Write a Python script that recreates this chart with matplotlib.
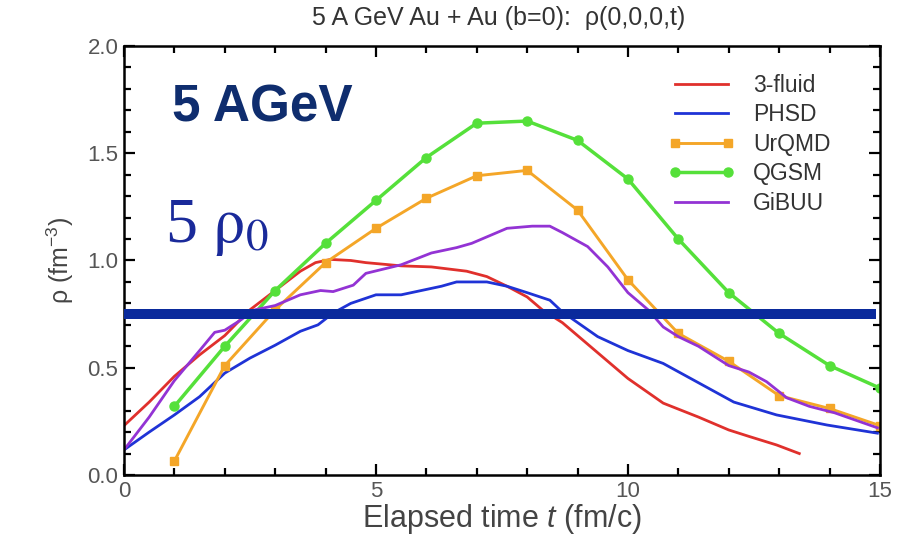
import matplotlib
matplotlib.use("Agg")
import matplotlib.pyplot as plt
from matplotlib.ticker import MultipleLocator

plt.rcParams['font.family'] = ['Liberation Sans', 'DejaVu Sans']
plt.rcParams['mathtext.fontset'] = 'custom'
plt.rcParams['mathtext.rm'] = 'Liberation Sans'
plt.rcParams['mathtext.it'] = 'Liberation Sans:italic'

# 3-fluid (red)
t_fluid = [0, 0.5, 1.0, 1.5, 2.0, 2.5, 3.0, 3.5, 3.8, 4.1, 4.5, 4.8, 5.5, 6.1, 6.8,
           7.2, 7.6, 8.0, 8.3, 8.7, 9.4, 10.0, 10.7, 11.4, 12.0, 12.4, 12.95, 13.4]
rho_fluid = [0.23, 0.34, 0.46, 0.56, 0.65, 0.77, 0.86, 0.95, 0.99, 1.005, 1.0, 0.99,
             0.975, 0.97, 0.95, 0.925, 0.88, 0.83, 0.77, 0.71, 0.57, 0.45, 0.335,
             0.27, 0.21, 0.18, 0.14, 0.10]

# PHSD (blue)
t_phsd = [0, 0.5, 1.0, 1.5, 2.0, 2.5, 3.0, 3.5, 3.85, 4.15, 4.5, 5.0, 5.5, 5.8,
          6.3, 6.6, 7.2, 7.6, 8.0, 8.45, 8.7, 9.4, 10.0, 10.7, 11.4, 12.1, 12.95,
          13.95, 14.95]
rho_phsd = [0.117, 0.20, 0.28, 0.365, 0.475, 0.545, 0.605, 0.67, 0.70, 0.755, 0.80,
            0.84, 0.84, 0.855, 0.88, 0.90, 0.90, 0.88, 0.85, 0.815, 0.76, 0.645,
            0.58, 0.52, 0.43, 0.34, 0.28, 0.233, 0.195]

# UrQMD (orange, squares)
t_urqmd = [1, 2, 3, 4, 5, 6, 7, 8, 9, 10, 11, 12, 13, 14, 15]
rho_urqmd = [0.065, 0.51, 0.77, 0.99, 1.15, 1.29, 1.395, 1.42, 1.235, 0.91, 0.66,
             0.53, 0.37, 0.31, 0.23]

# QGSM (green, circles)
t_qgsm = [1, 2, 3, 4, 5, 6, 7, 8, 9, 10, 11, 12, 13, 14, 15]
rho_qgsm = [0.32, 0.60, 0.86, 1.08, 1.28, 1.48, 1.64, 1.65, 1.56, 1.38, 1.10,
            0.85, 0.66, 0.51, 0.405]

# GiBUU (purple)
t_gibuu = [0, 0.5, 1.0, 1.5, 1.8, 2.0, 2.3, 2.6, 3.0, 3.5, 3.9, 4.15, 4.55, 4.8,
           5.5, 6.1, 6.6, 6.9, 7.3, 7.6, 8.1, 8.45, 8.7, 9.2, 9.6, 10.0, 10.4, 10.7,
           11.0, 11.4, 12.0, 12.4, 12.75, 13.15, 13.6, 14.1, 14.95]
rho_gibuu = [0.117, 0.27, 0.44, 0.58, 0.665, 0.675, 0.72, 0.77, 0.79, 0.84, 0.86,
             0.855, 0.885, 0.94, 0.98, 1.035, 1.06, 1.08, 1.12, 1.15, 1.16, 1.16,
             1.13, 1.065, 0.97, 0.85, 0.77, 0.69, 0.645, 0.60, 0.51, 0.48, 0.435,
             0.36, 0.32, 0.29, 0.22]

rho_5rho0 = 0.75

fig = plt.figure(figsize=(9.09, 5.34), dpi=100)
ax = fig.add_axes([0.1364, 0.1105, 0.8316, 0.8034])

ax.plot(t_fluid, rho_fluid, color='#e0302c', lw=2.0, label='3-fluid')
ax.plot(t_phsd, rho_phsd, color='#1f33d6', lw=2.0, label='PHSD')
ax.plot(t_urqmd, rho_urqmd, color='#f4a628', lw=2.1, marker='s', ms=5.5,
        label='UrQMD')
ax.plot(t_qgsm, rho_qgsm, color='#55e03a', lw=2.5, marker='o', ms=6.5,
        label='QGSM')
ax.plot(t_gibuu, rho_gibuu, color='#9333d4', lw=2.0, label='GiBUU')

ax.hlines(rho_5rho0, 0, 14.92, color='#0a2a9c', lw=7.2, zorder=5)

ax.set_xlim(0, 15)
ax.set_ylim(0, 2.0)
ax.xaxis.set_major_locator(MultipleLocator(5))
ax.xaxis.set_minor_locator(MultipleLocator(1))
ax.yaxis.set_major_locator(MultipleLocator(0.5))
ax.yaxis.set_minor_locator(MultipleLocator(0.1))
ax.yaxis.set_major_formatter(matplotlib.ticker.FormatStrFormatter('%.1f'))
ax.tick_params(which='both', direction='in', top=True, right=True,
               colors='black', labelcolor='#555555', labelsize=16, width=1.6)
ax.tick_params(which='major', length=8, pad=4)
ax.tick_params(which='minor', length=5)
for s in ax.spines.values():
    s.set_linewidth(1.8)

ax.set_xlabel(r'Elapsed time $\mathit{t}$ (fm/c)', fontsize=22, color='#444444',
              labelpad=0)
ax.set_ylabel(r'ρ (fm$^{-3}$)', fontsize=18, color='#444444', labelpad=8)

fig.text(0.548, 0.966, '5 A GeV Au + Au (b=0):  ρ(0,0,0,t)', ha='center',
         va='center', fontsize=18, color='#333333')

ax.text(0.95, 1.646, '5 AGeV', fontsize=37, fontweight='bold', color='#0f2d6e',
        ha='left', va='baseline')
ax.text(0.81, 1.086, r'5 $\mathrm{\rho}_{0}$', fontsize=46, color='#1a2a9a',
        family='Liberation Serif', math_fontfamily='stix', ha='left',
        va='baseline')

leg = ax.legend(loc='upper right', frameon=False, fontsize=16.5, numpoints=2,
                handlelength=2.9, labelspacing=0.28, borderaxespad=0.6,
                handletextpad=0.8, bbox_to_anchor=(0.965, 0.988))
for txt in leg.get_texts():
    txt.set_color('#333333')

fig.savefig('out.png', dpi=100)
